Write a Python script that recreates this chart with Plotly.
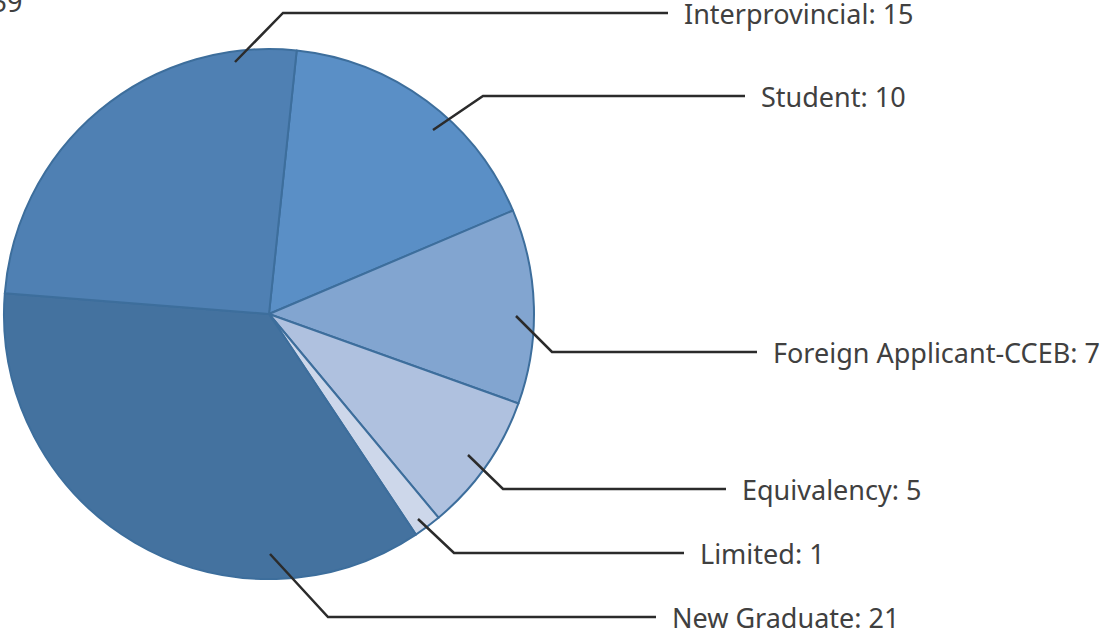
import plotly.graph_objects as go

# ---- data ----
categories = ["Student", "Foreign Applicant-CCEB", "Equivalency", "Limited", "New Graduate", "Interprovincial"]
values = [10, 7, 5, 1, 21, 15]
colors = ["#5A8FC6", "#82A5D0", "#AFC1DF", "#CDD7EA", "#44729F", "#4F80B3"]
total_label = "Total: 59"

# ---- layout constants (pixels in the 1105x633 page) ----
W, H = 1105, 633
CX, CY, R = 269, 314, 265
# leader lines: start point on slice, elbow, end of horizontal run
leaders = {
    "Interprovincial": [(235, 62), (283, 13), (668, 13)],
    "Student": [(433, 130), (483, 96), (745, 96)],
    "Foreign Applicant-CCEB": [(516, 316), (552, 352), (757, 352)],
    "Equivalency": [(468, 455), (503, 489), (726, 489)],
    "Limited": [(418, 519), (454, 553), (684, 553)],
    "New Graduate": [(270, 554), (328, 617), (656, 617)],
}
TEXT_GAP = 14
FONT = dict(family="Noto Sans", size=27, color="#404040")


def px(x):
    return x / W


def py(y):
    return 1 - y / H


fig = go.Figure()
fig.add_trace(go.Pie(
    labels=categories,
    values=values,
    sort=False,
    direction="clockwise",
    rotation=6,
    marker=dict(colors=colors, line=dict(color="#3D6E9C", width=2)),
    textinfo="none",
    hoverinfo="label+value",
    showlegend=False,
    domain=dict(x=[px(CX - R), px(CX + R)], y=[py(CY + R), py(CY - R)]),
))

shapes = []
annotations = []
for cat, val in zip(categories, values):
    pts = leaders[cat]
    path = "M " + " L ".join(f"{px(x)},{py(y)}" for x, y in pts)
    shapes.append(dict(type="path", path=path, xref="paper", yref="paper",
                       line=dict(color="#2B2B2B", width=2.5)))
    ex, ey = pts[-1]
    annotations.append(dict(x=px(ex + TEXT_GAP), y=py(ey), xref="paper", yref="paper",
                            text=f"{cat}: {val}", showarrow=False,
                            xanchor="left", yanchor="middle", font=FONT))

annotations.append(dict(x=px(24), y=py(22), xref="paper", yref="paper",
                        text=total_label, showarrow=False,
                        xanchor="right", yanchor="bottom", font=FONT))

fig.update_layout(
    width=W, height=H,
    margin=dict(l=0, r=0, t=0, b=0),
    paper_bgcolor="white", plot_bgcolor="white",
    shapes=shapes, annotations=annotations,
)

fig.write_html(
    "out.html",
    config={"displayModeBar": False},
    post_script="document.body.style.margin='0';document.body.style.overflow='hidden';",
)
